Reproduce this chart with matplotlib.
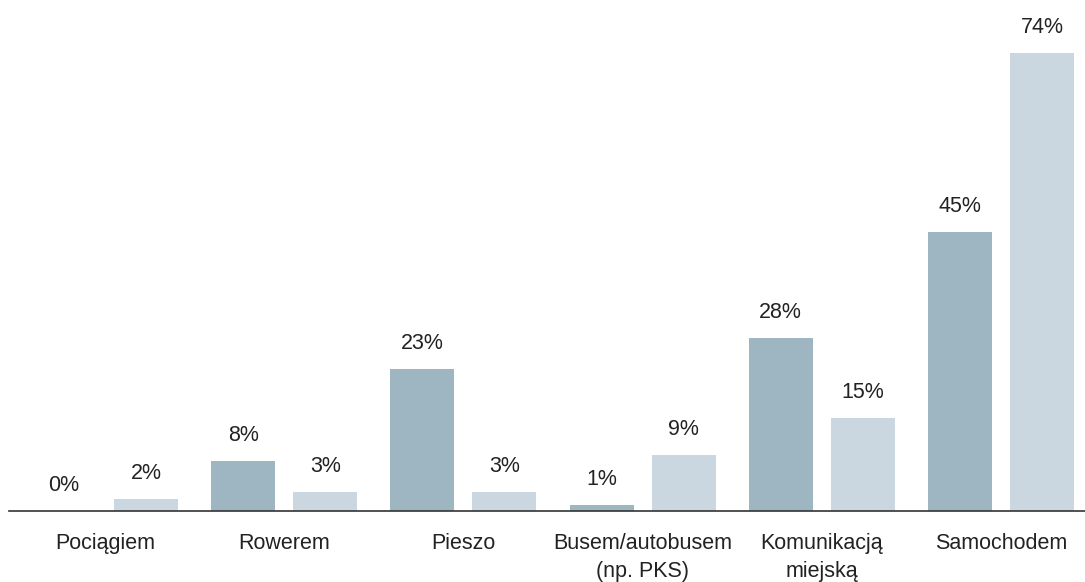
import matplotlib.pyplot as plt
import numpy as np

# Dane
kategorie = ['Pociągiem', 'Rowerem', 'Pieszo', 'Busem/autobusem\n(np. PKS)',
             'Komunikacją\nmiejską', 'Samochodem']
seria_1 = [0, 8, 23, 1, 28, 45]
seria_2 = [2, 3, 3, 9, 15, 74]

kolor_1 = '#9db6c2'
kolor_2 = '#cad7e0'
kolor_tekstu = '#222222'

plt.rcParams['font.family'] = ['Liberation Sans', 'DejaVu Sans']

fig = plt.figure(figsize=(10.85, 5.82), dpi=100)
ax = fig.add_axes([9 / 1085, 71 / 582, 1076 / 1085, 511 / 582])

x = np.arange(len(kategorie))
szer = 0.3575
przes = 0.229

b1 = ax.bar(x - przes, seria_1, width=szer, color=kolor_1)
b2 = ax.bar(x + przes, seria_2, width=szer, color=kolor_2)

# Etykiety wartości nad słupkami
for slupki, wartosci in [(b1, seria_1), (b2, seria_2)]:
    for s, v in zip(slupki, wartosci):
        ax.annotate(f'{v}%', (s.get_x() + s.get_width() / 2, v),
                    xytext=(0, 14.4), textcoords='offset points',
                    ha='center', va='baseline', fontsize=15.5, color=kolor_tekstu)

# Etykiety kategorii pod osią
for xi, k in zip(x, kategorie):
    ax.annotate(k, (xi, 0), xytext=(0, -16), textcoords='offset points',
                ha='center', va='top', fontsize=15.5, color=kolor_tekstu,
                linespacing=1.42, annotation_clip=False)

ax.set_xlim(-0.536, 5.469)
ax.set_ylim(0, 82.5)
for s in ['top', 'right', 'left']:
    ax.spines[s].set_visible(False)
ax.spines['bottom'].set_color('#333333')
ax.spines['bottom'].set_linewidth(1.2)
ax.set_xticks([])
ax.set_yticks([])

plt.savefig('out.png', dpi=100)
